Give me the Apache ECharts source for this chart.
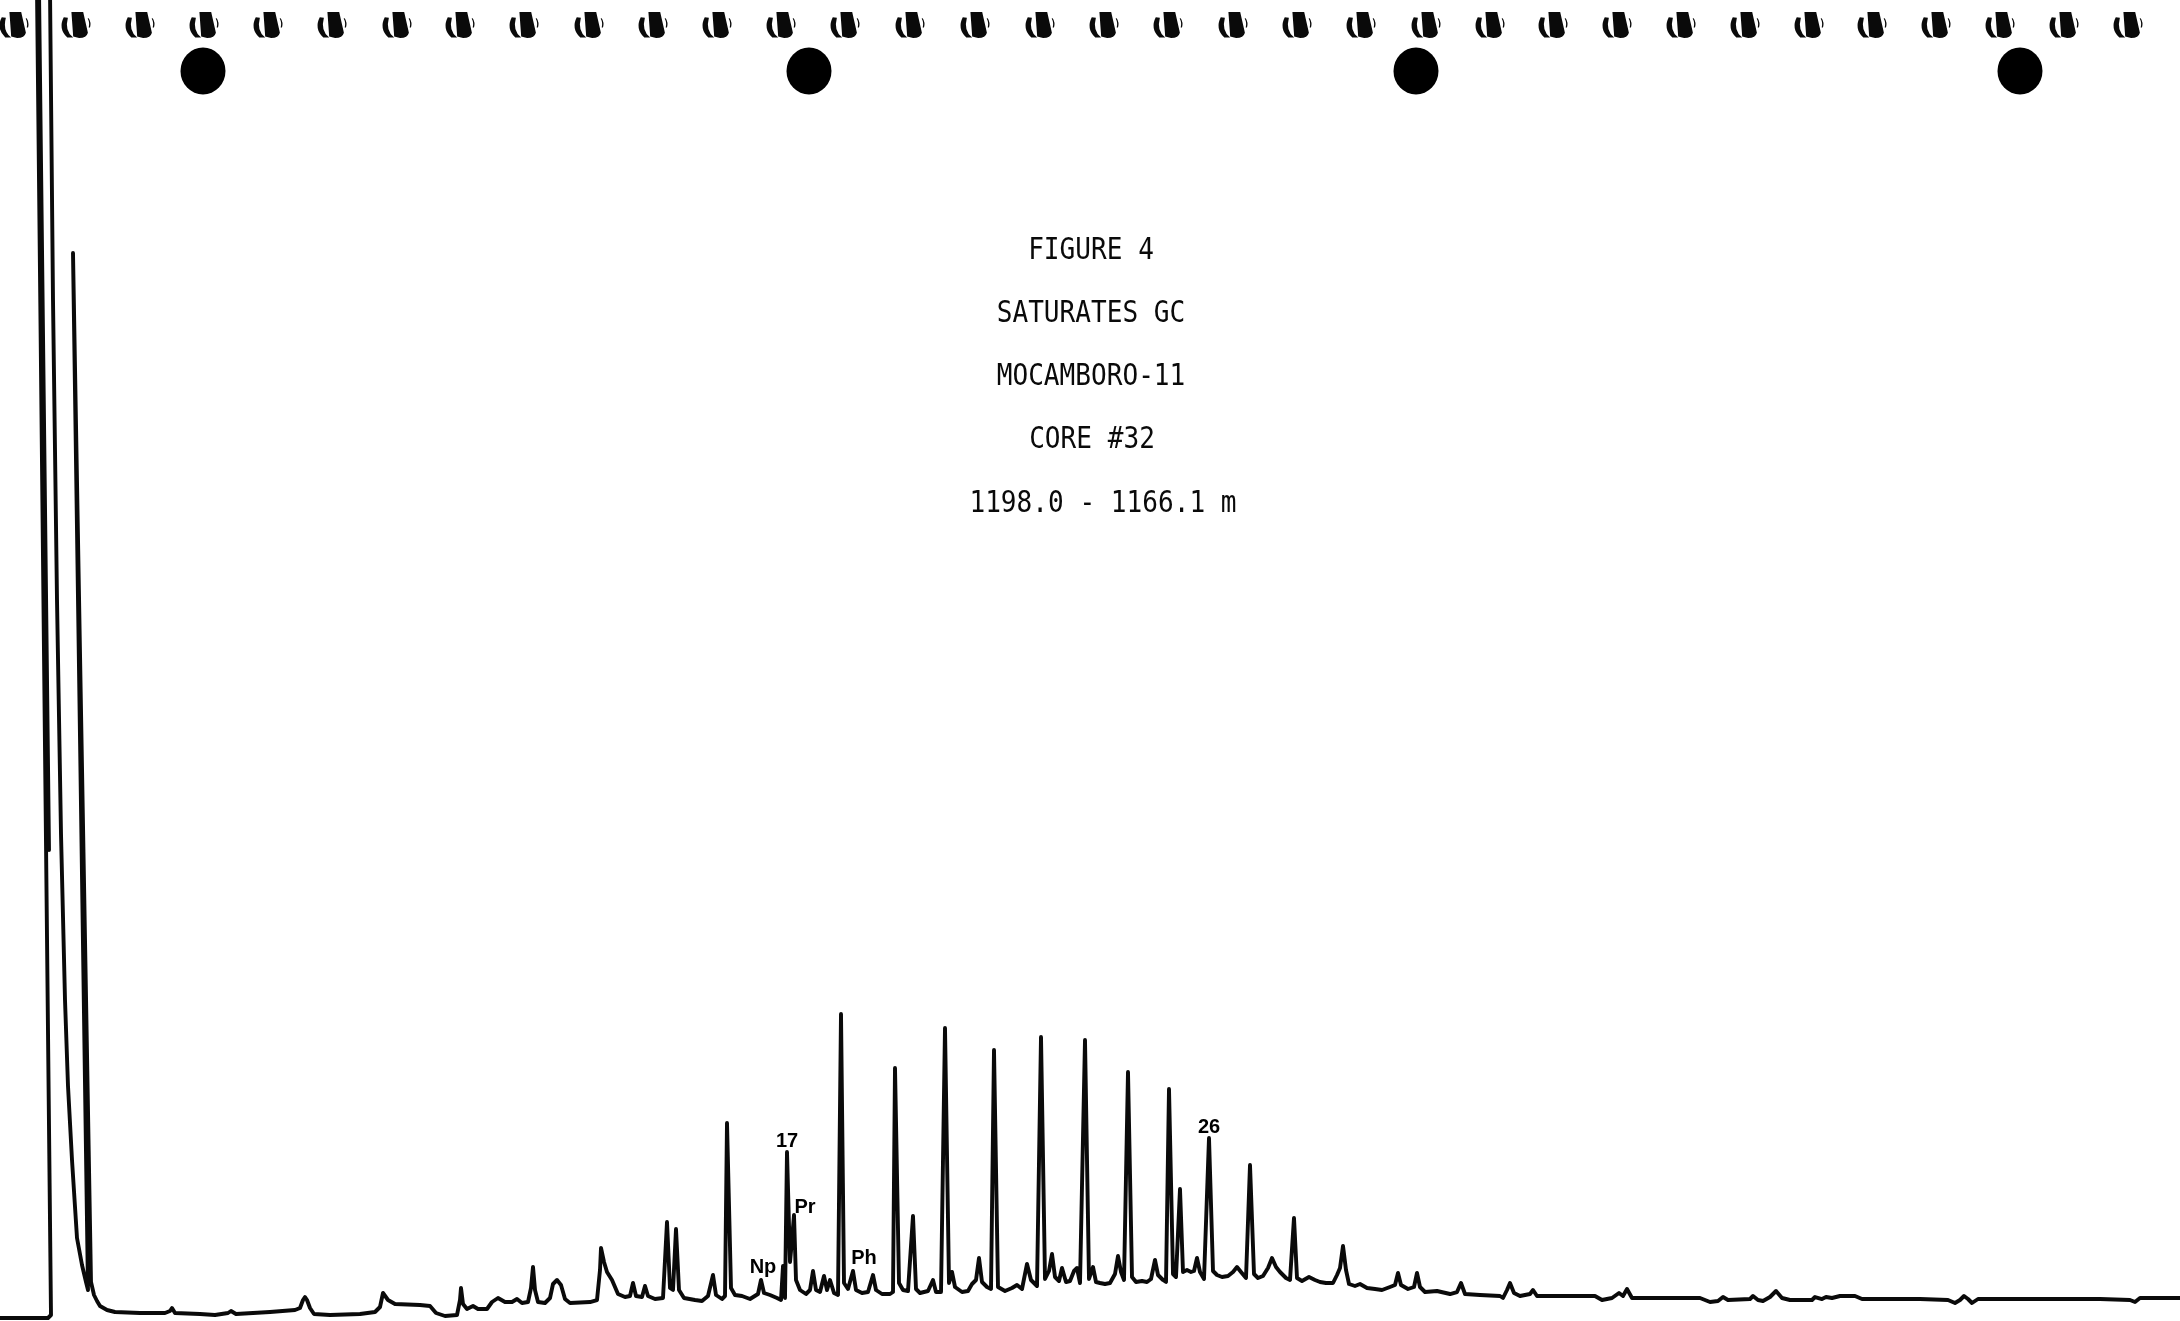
<!DOCTYPE html>
<html>
<head>
<meta charset="utf-8">
<title>Saturates GC - Mocamboro-11 Core #32</title>
<script src="https://cdn.jsdelivr.net/npm/echarts@6/dist/echarts.min.js"></script>
<style>
  html, body { margin: 0; padding: 0; background: #ffffff; }
  #chart { width: 2180px; height: 1321px; }
</style>
</head>
<body>
<div id="chart"></div>
<script>
// Recorder trace: [chart distance, detector response] pairs, in chart units.
// Solvent front (off-scale) and first light peak.
const solventFront = [
  [0, 3], [48, 3], [51, 6], [37, 1331], [38, 1331], [49, 471], [48, 471], [39, 1331],
  [50, 1331], [53, 1021], [57, 721], [61, 487], [65, 321], [68, 235], [72, 161],
  [77, 83], [82, 56], [86, 39], [88, 31], [73, 1068], [75, 1066], [91, 39],
  [94, 26], [97, 20], [100, 15], [107, 11], [115, 9]
];

// Light ends up to nC17 / pristane.
const lightEnds = [
  [140, 8], [165, 8], [170, 10], [172, 13], [175, 8], [200, 7], [215, 6], [228, 8],
  [231, 10], [236, 7], [270, 9], [295, 11], [300, 13], [303, 21], [305, 24], [307, 21],
  [310, 13], [314, 7], [330, 6], [360, 7], [375, 9], [380, 14], [383, 28], [385, 29],
  [388, 21], [395, 17], [420, 16], [430, 15], [436, 8], [445, 5], [457, 6], [460, 21],
  [461, 33], [463, 17], [467, 12], [473, 15], [478, 12], [487, 12], [492, 19], [498, 23],
  [505, 19], [512, 19], [517, 22], [522, 18], [528, 19], [531, 33], [533, 54], [535, 31],
  [538, 19], [545, 18], [550, 23], [553, 37], [557, 41], [561, 36], [565, 22], [570, 18],
  [590, 19], [597, 21], [600, 51], [601, 73], [604, 59], [607, 49], [612, 41], [618, 27],
  [625, 24], [630, 25], [633, 38], [636, 25], [642, 24], [645, 35], [648, 25], [655, 22],
  [663, 23], [667, 99], [670, 33], [673, 31], [676, 92], [679, 31], [684, 23], [695, 21],
  [702, 20], [708, 25], [713, 46], [716, 26], [722, 22], [725, 25], [727, 198], [731, 33],
  [735, 26], [742, 25], [750, 22], [758, 27], [761, 41], [764, 28], [770, 26], [777, 23],
  [781, 21], [783, 55], [785, 23], [786, 25], [787, 169], [790, 59], [792, 81], [794, 106],
  [796, 41], [800, 31], [806, 27]
];

// n-alkane envelope nC18 - nC29.
const midRange = [
  [810, 31], [813, 50], [816, 31], [820, 29], [824, 45], [827, 31], [830, 41], [834, 28],
  [838, 26], [841, 307], [844, 38], [848, 32], [853, 50], [856, 31], [862, 28], [868, 29],
  [873, 46], [876, 31], [882, 27], [890, 27], [893, 29], [895, 253], [899, 38], [903, 31],
  [908, 30], [913, 105], [916, 32], [920, 28], [928, 30], [933, 41], [936, 29], [941, 29],
  [945, 293], [949, 38], [952, 49], [955, 34], [962, 29], [968, 30], [972, 37], [976, 41],
  [979, 63], [982, 39], [987, 34], [991, 32], [994, 271], [998, 34], [1005, 30], [1012, 33],
  [1017, 36], [1022, 32], [1027, 57], [1031, 41], [1037, 35], [1041, 284], [1045, 42],
  [1049, 50], [1052, 67], [1055, 44], [1059, 40], [1062, 53], [1066, 39], [1070, 40],
  [1074, 50], [1077, 53], [1080, 38], [1085, 281], [1089, 42], [1093, 54], [1096, 39],
  [1100, 38], [1105, 37], [1110, 38], [1115, 47], [1118, 65], [1121, 49], [1124, 41],
  [1128, 249], [1132, 44], [1136, 39], [1142, 40], [1147, 39], [1151, 42], [1155, 61],
  [1158, 46], [1163, 41], [1166, 39], [1169, 232], [1173, 47], [1176, 44], [1180, 132],
  [1183, 49], [1187, 51], [1191, 49], [1194, 50], [1197, 63], [1200, 49], [1204, 42],
  [1209, 183], [1213, 50], [1217, 46], [1222, 44], [1228, 45], [1233, 49], [1237, 54],
  [1241, 49], [1246, 43], [1250, 156], [1254, 47], [1258, 43], [1263, 45], [1268, 53],
  [1272, 63], [1276, 54], [1280, 49], [1286, 43], [1290, 41], [1294, 103], [1297, 43],
  [1302, 40], [1309, 44], [1315, 41], [1320, 39], [1326, 38], [1333, 38], [1337, 46],
  [1340, 53], [1343, 75], [1346, 51], [1349, 37]
];

// Heavy ends and end of run.
const heavyEnds = [
  [1355, 35], [1360, 37], [1367, 33], [1375, 32], [1382, 31], [1390, 34], [1395, 36],
  [1398, 48], [1401, 36], [1408, 32], [1414, 34], [1417, 48], [1420, 34], [1425, 29],
  [1437, 30], [1450, 27], [1457, 29], [1461, 38], [1465, 27], [1480, 26], [1500, 25],
  [1503, 23], [1507, 31], [1510, 38], [1514, 28], [1520, 25], [1530, 27], [1533, 31],
  [1537, 25], [1560, 25], [1595, 25], [1602, 21], [1612, 23], [1619, 28], [1623, 25],
  [1627, 32], [1632, 23], [1650, 23], [1700, 23], [1710, 19], [1718, 20], [1723, 24],
  [1728, 21], [1750, 22], [1753, 25], [1758, 21], [1763, 20], [1770, 24], [1776, 30],
  [1782, 23], [1790, 21], [1812, 21], [1815, 24], [1822, 22], [1826, 24], [1832, 23],
  [1840, 25], [1855, 25], [1862, 22], [1880, 22], [1920, 22], [1948, 21], [1955, 18],
  [1960, 21], [1964, 25], [1968, 22], [1972, 18], [1978, 22], [2020, 22], [2100, 22],
  [2130, 21], [2135, 19], [2140, 23], [2180, 23]
];

// Chart-paper timer ticks and event dots (chart distance).
const timerTicks = [
  14, 76, 140, 204, 268, 332, 397, 460, 524, 589, 653, 717, 781, 845, 910, 975, 1040,
  1104, 1168, 1233, 1297, 1361, 1426, 1490, 1553, 1617, 1681, 1745, 1809, 1872, 1936,
  2000, 2064, 2128
];
const eventDots = [203, 809, 1416, 2020];

// Peak identifications: name, chart distance, label level.
const peakNames = ['Np', '17', 'Pr', 'Ph', '26'];
const peakNameX = [763, 787, 805, 864, 1209];
const peakNameY = [54, 180, 114, 63, 194];

// Header lines typed on the chart.
const headerLines = ['FIGURE 4', 'SATURATES GC', 'MOCAMBORO-11', 'CORE #32', '1198.0 - 1166.1 m'];

// ---- drawing ----
const INK = '#0a0a0a';
const tickLevel = 1296;
const dotLevel = 1250;
const headerX = [1091, 1091, 1091, 1092, 1103];
const headerY = [251, 314, 377, 440, 504];

const trace = [].concat(solventFront, lightEnds, midRange, heavyEnds);

// Timer tick glyph: heavy left hook, central pen blob, thin right stroke.
const tickPath = 'path://' +
  'M5,6 Q0,17 8,25.5 L13,25.5 Q5.5,19 8.5,6.5 Z ' +
  'M11.5,1 L21.5,1 L25.5,21 Q24.5,26 18,26 L13,24.5 Z ' +
  'M26.2,7 Q28.5,11 27.3,16 L26.2,15.8 Q27.2,11 25.3,7.2 Z';

const chart = echarts.init(document.getElementById('chart'), null, { renderer: 'canvas' });

chart.setOption({
  backgroundColor: '#ffffff',
  animation: false,
  grid: { left: 0, right: 0, top: 0, bottom: 0 },
  xAxis: { type: 'value', min: 0, max: 2180, show: false },
  yAxis: { type: 'value', min: 0, max: 1321, show: false },
  graphic: headerLines.map((t, i) => ({
    type: 'text',
    x: headerX[i],
    y: headerY[i],
    scaleX: 0.87,
    style: {
      text: t,
      font: '30px "DejaVu Sans Mono"',
      fill: INK,
      align: 'center',
      verticalAlign: 'middle',
      textAlign: 'center',
      textVerticalAlign: 'middle'
    }
  })),
  series: [
    {
      type: 'line',
      data: trace,
      symbol: 'none',
      clip: true,
      smooth: false,
      lineStyle: { color: INK, width: 3.9, join: 'round', cap: 'round' },
      z: 2
    },
    {
      type: 'scatter',
      data: timerTicks.map(x => [x, tickLevel]),
      symbol: tickPath,
      symbolSize: [29, 26],
      itemStyle: { color: INK, opacity: 1 },
      z: 3
    },
    {
      type: 'scatter',
      data: eventDots.map(x => [x, dotLevel]),
      symbol: 'circle',
      symbolSize: [45, 47],
      itemStyle: { color: '#000000', opacity: 1 },
      z: 3
    },
    {
      type: 'scatter',
      data: peakNames.map((n, i) => ({ name: n, value: [peakNameX[i], peakNameY[i]] })),
      symbolSize: 0,
      itemStyle: { opacity: 1 },
      label: {
        show: true,
        position: 'inside',
        formatter: p => p.name,
        fontFamily: '"Liberation Sans", Arial, sans-serif',
        fontWeight: 'bold',
        fontSize: 20,
        color: '#000000',
        opacity: 1
      },
      z: 4
    }
  ]
});
</script>
</body>
</html>
